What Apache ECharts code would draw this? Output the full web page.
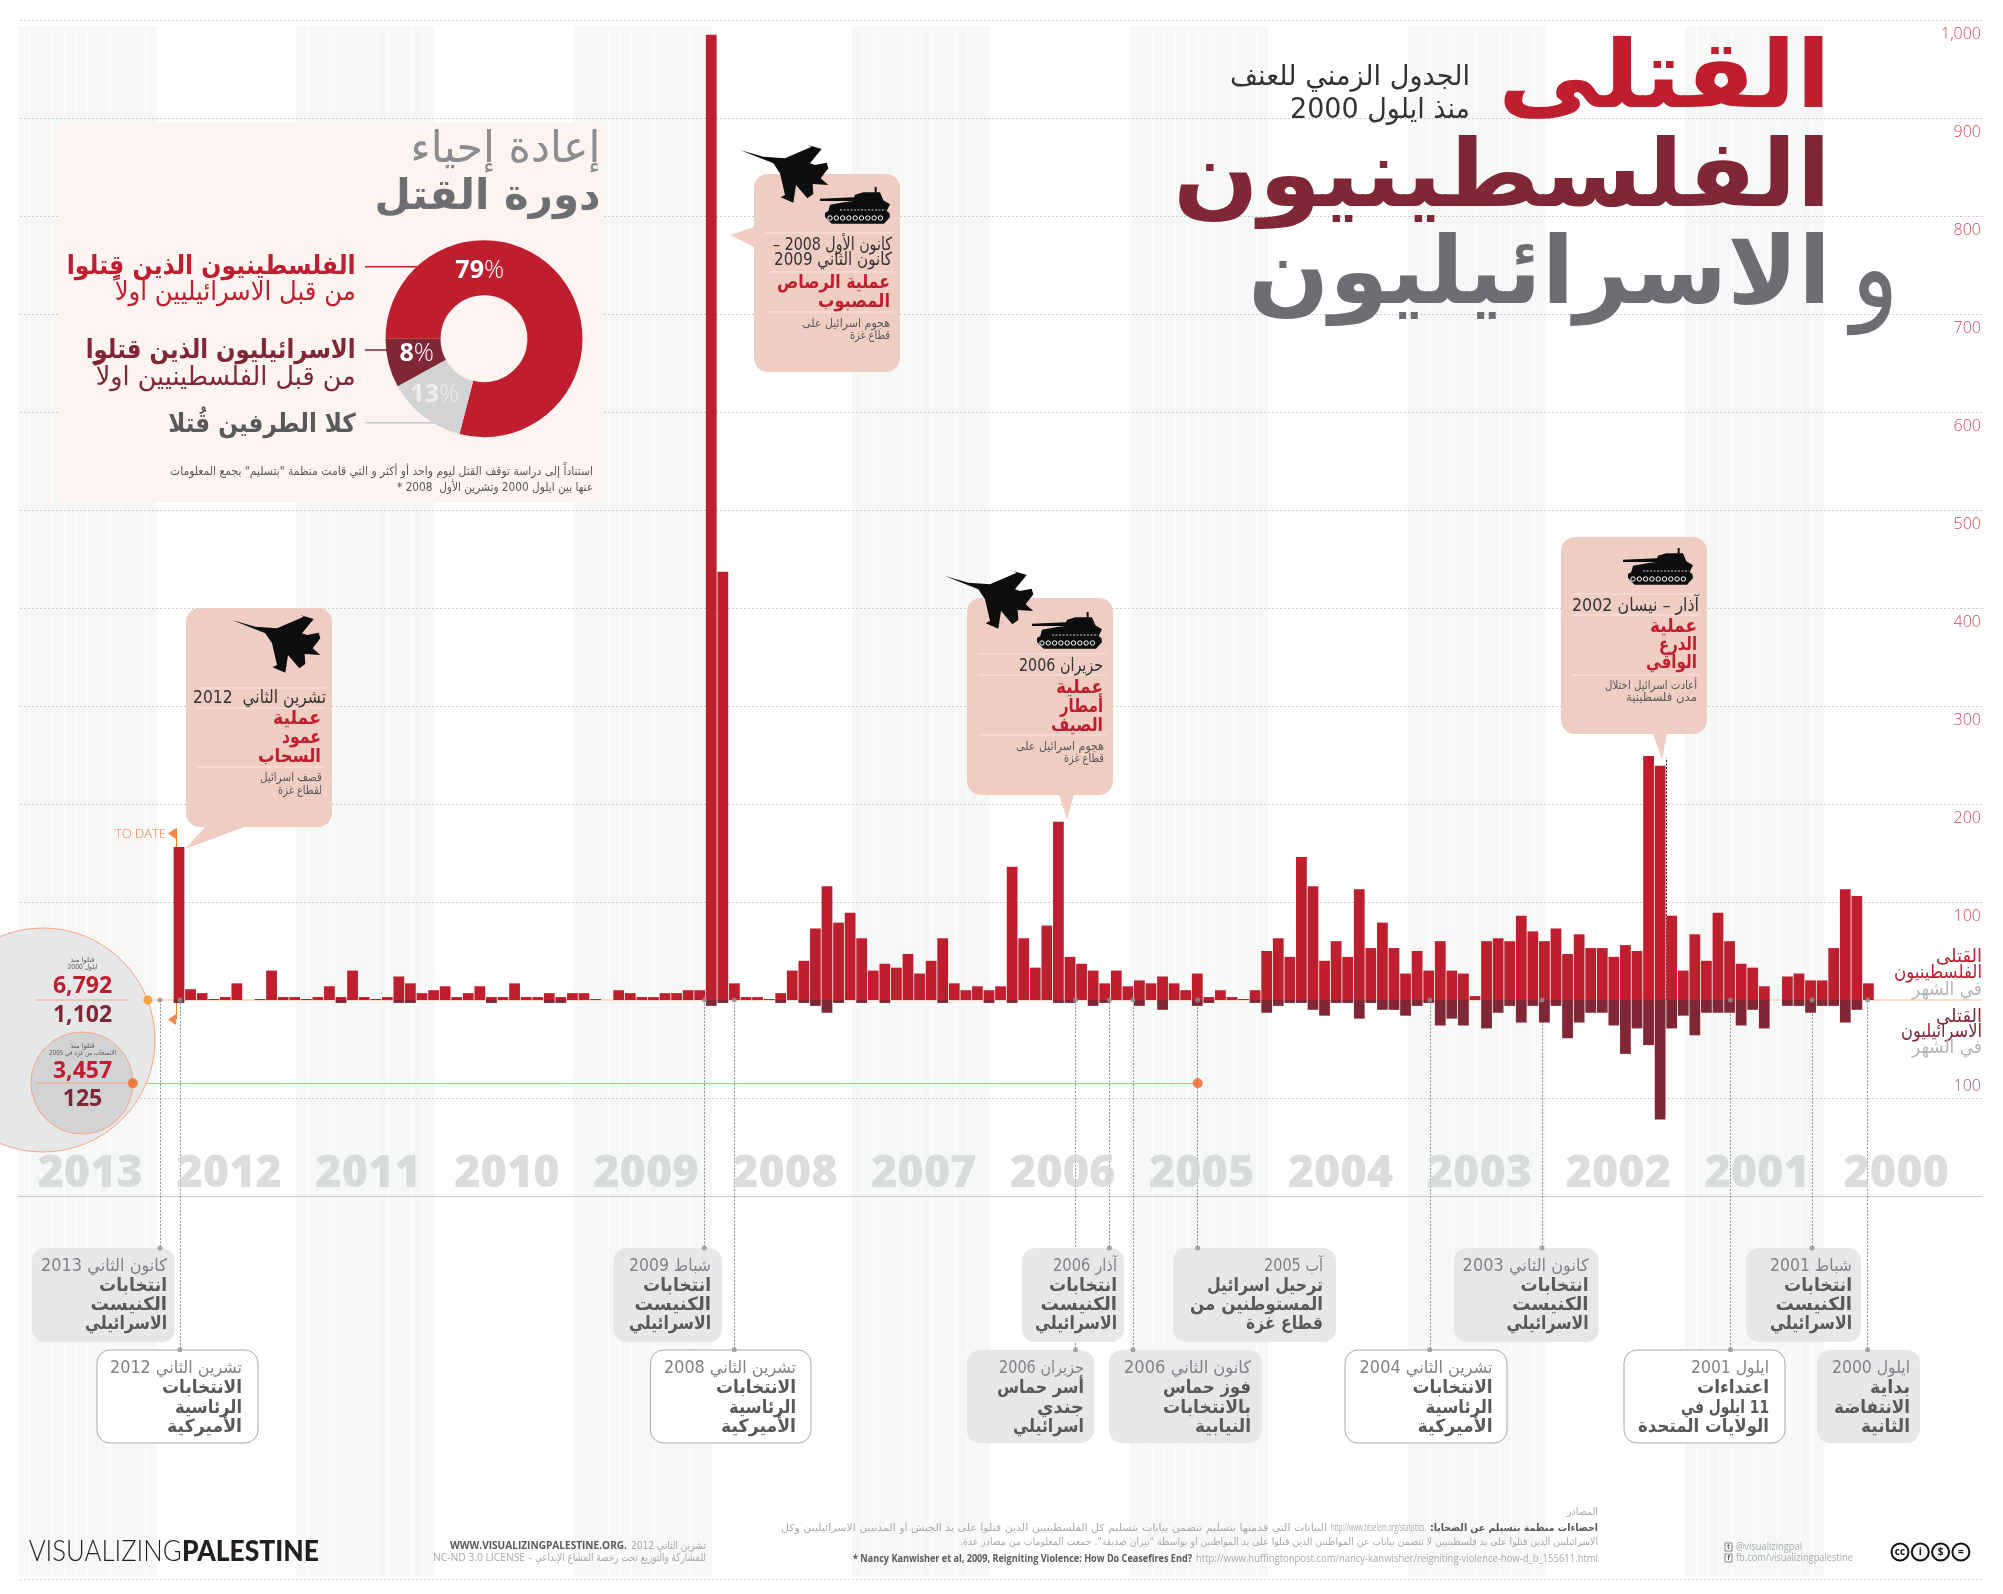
<!DOCTYPE html>
<html><head><meta charset="utf-8">
<script src="https://cdn.jsdelivr.net/npm/echarts@6/dist/echarts.min.js"></script>
<style>html,body{margin:0;padding:0;background:#fff;overflow:hidden}#c{position:absolute;left:0;top:0;width:2003px;height:1594px}</style>
</head><body dir="rtl"><div id="c"></div>
<script>
// ---------- data (left to right: Nov 2012 back to Sep 2000) ----------
const palestinians = [156,11,7,1,3,17,0,1,30,3, 3,1,3,14,3,30,3,1,3,24, 17,7,10,14,3,7,14,3,3,17, 3,3,7,3,7,7,1,0,10,7,
 3,3,7,7,10,10,985,437,17,3, 3,1,7,30,40,73,116,79,89,63, 30,37,33,47,27,40,63,17,10,14, 10,14,136,63,33,76,182,44,37,30,
 17,30,14,20,17,24,17,10,27,3, 10,3,1,10,50,63,44,146,116,40, 60,44,113,53,79,53,27,50,30,60, 30,27,4,60,63,60,86,70,60,73,
 47,67,53,53,44,56,50,249,239,86, 30,67,40,89,60,37,33,14,0,24, 27,20,20,53,113,106,17];
const israelis = [3,0,0,0,0,0,0,0,0,0, 0,0,0,0,3,0,0,0,0,3, 3,0,0,0,0,0,0,3,0,0, 0,0,3,3,0,0,0,0,0,0,
 0,0,0,0,0,0,6,3,0,0, 0,0,3,0,3,6,13,3,0,3, 0,3,0,0,0,0,3,0,0,0, 3,0,3,0,0,0,3,3,0,6,
 3,0,0,6,0,10,0,0,6,3, 0,0,0,3,13,6,3,3,10,16, 3,3,19,3,10,10,16,6,3,26, 19,26,0,29,13,6,23,6,23,6,
 39,23,13,13,26,55,29,46,122,29, 16,36,13,13,13,26,10,29,0,6, 6,13,6,6,23,10,0];
const monthNames = ['Jan','Feb','Mar','Apr','May','Jun','Jul','Aug','Sep','Oct','Nov','Dec'];
const months = [];
for (let i = 0, y = 2012, m = 10; i < palestinians.length; i++) { months.push(monthNames[m] + ' ' + y); if (--m < 0) { m = 11; y--; } }
const yearLabels = [2013,2012,2011,2010,2009,2008,2007,2006,2005,2004,2003,2002,2001,2000];
const shadedYears = [2013,2011,2009,2007,2005,2003,2001];
const upperTicks = [1000,900,800,700,600,500,400,300,200,100];
const lowerTick = -100;
const cycleShares = [79,13,8];
const cycleNames = ['الفلسطينيون الذين قتلوا أولا','كلا الطرفين قتلا','الاسرائيليون الذين قتلوا أولا'];
const totals = {sinceInt:['6,792','1,102'], sinceGaza:['3,457','125']};
// event lines: date on the time axis (year fraction) and depth of the line on the value scale
const eventDates = [2012.978,2012.834,2009.059,2008.844,2006.387,2006.144,2005.974,2005.508,2003.837,2003.029,2001.673,2001.085,2000.685];
const eventDepths = [-253,-357,-253,-357,-357,-253,-357,-253,-357,-253,-357,-253,-357];
const eventText = [
 ['كانون الثاني 2013','انتخابات','الكنيست','الاسرائيلي'],
 ['تشرين الثاني 2012','الانتخابات','الرئاسية','الأميركية'],
 ['شباط 2009','انتخابات','الكنيست','الاسرائيلي'],
 ['تشرين الثاني 2008','الانتخابات','الرئاسية','الأميركية'],
 ['حزيران 2006','أسر حماس','جندي','اسرائيلي'],
 ['آذار 2006','انتخابات','الكنيست','الاسرائيلي'],
 ['كانون الثاني 2006','فوز حماس','بالانتخابات','النيابية'],
 ['آب 2005','ترحيل اسرائيل','المستوطنين من','قطاع غزة'],
 ['تشرين الثاني 2004','الانتخابات','الرئاسية','الأميركية'],
 ['كانون الثاني 2003','انتخابات','الكنيست','الاسرائيلي'],
 ['ايلول 2001','اعتداءات','11 ايلول في','الولايات المتحدة'],
 ['شباط 2001','انتخابات','الكنيست','الاسرائيلي'],
 ['ايلول 2000','بداية','الانتفاضة','الثانية']];

// ---------- layout (separate from the data) ----------
const eventBoxes = [ // x0,x1,textRight,row,outlined
 [32,175,167,0,0],[97,258,242,1,1],[613.5,722,711,0,0],[650.5,811,796,1,1],[967,1094,1084,1,0],[1022,1124,1117,0,0],
 [1109,1262,1251,1,0],[1173,1336,1323,0,0],[1345,1507,1492.6,1,1],[1454,1599,1588.6,0,0],[1624,1785,1769,1,1],[1746,1861,1852,0,0],[1817,1920,1910,1,0]];
const widthOf = {'كانون الثاني 2013':126,'كانون الثاني 2003':126,'كانون الثاني 2006':127,'تشرين الثاني 2012':132,'تشرين الثاني 2008':132,'تشرين الثاني 2004':133,
 'شباط 2009':82,'شباط 2001':82,'آذار 2006':64,'آب 2005':59,'حزيران 2006':85,'ايلول 2001':78,'ايلول 2000':78,
 'انتخابات':68,'الكنيست':76.5,'الاسرائيلي':82,'الانتخابات':80,'الرئاسية':67,'الأميركية':75,'أسر حماس':87,'جندي':47,'اسرائيلي':71,
 'فوز حماس':88,'بالانتخابات':88,'النيابية':56,'ترحيل اسرائيل':116,'المستوطنين من':133,'قطاع غزة':77,'اعتداءات':72,'11 ايلول في':88,'الولايات المتحدة':131,
 'بداية':40,'الانتفاضة':76,'الثانية':49};
const AR = '"DejaVu Sans"', RED='#be1e2d', DARK='#7f2734', GREY='#6d6e71', MID='#58595b', LIGHT='#808285', PEACH='#f0cdc2';
const mctx = document.createElement('canvas').getContext('2d');
function measure(text,font){ mctx.font=font; return mctx.measureText(text).width; }
function txt(text,x,y,size,color,o){ o=o||{};
  const font=(o.weight?o.weight+' ':'')+size+'px '+(o.family||AR);
  let sx=1; if(o.w) sx=o.w/measure(text,font);
  return {type:'text',x:x,y:y,scaleX:sx,z:o.z||10,silent:true,
    style:{text:text,font:font,fill:color,textAlign:o.align||'right',textVerticalAlign:'middle',opacity:o.opacity==null?1:o.opacity}};
}
function runs(parts,right,y,size,color){ const out=[];let cur=right;
  parts.forEach(p=>{const font=(p.b?'bold ':'')+size+'px '+(p.family||AR);const w=p.w||measure(p.t,font);
    out.push(txt(p.t,cur,y,size,p.c||color,{weight:p.b?'bold':'',family:p.family,w:w}));cur-=w+(p.gap==null?4:p.gap);});
  return out; }
function rule(x1,y1,x2,y2,c,o){return {type:'line',z:(o&&o.z)||7,silent:true,shape:{x1,y1,x2,y2},style:{stroke:c,lineWidth:(o&&o.lw)||1}};}
// icon outlines, in 3x units of their own box
const planePts=[[30,60],[100,80],[165,85],[245,50],[235,45],[275,57],[240,100],[255,105],[290,98],[295,115],[272,145],[295,165],[248,162],[250,192],[232,205],[198,165],[190,218],[152,202],[165,195],[150,130],[130,100]];
const tankPts=[[270,207],[372,203],[375,195],[400,188],[434,188],[434,172],[440,172],[440,188],[450,188],[460,212],[480,224],[470,244],[478,250],[480,262],[462,282],[305,282],[285,262],[285,250],[295,244],[300,225],[350,216],[372,214],[270,214]];
function placePts(pts,x,y){return pts.map(p=>[x+p[0]/3,y+p[1]/3]);}
function plane(x,y){return {type:'polygon',z:6,silent:true,shape:{points:placePts(planePts,x-10,y-15)},style:{fill:'#0b0d0e'}};}
function tank(x,y){ const ox=x-90, oy=y-57.33; const els=[{type:'polygon',z:6,silent:true,shape:{points:placePts(tankPts,ox,oy)},style:{fill:'#0b0d0e'}},
   {type:'line',z:6,silent:true,shape:{x1:x+20,y1:y+23,x2:x+66,y2:y+23},style:{stroke:'#fff',lineWidth:.8,lineDash:[2,1.5]}}];
  for(let i=0;i<9;i++) els.push({type:'circle',z:6,silent:true,shape:{cx:x+10+i*6.3,cy:y+31,r:2.2},style:{fill:'#0b0d0e',stroke:'#fff',lineWidth:1}});
  return els; }
function callout(x0,y0,x1,y1,ptr){return [
  {type:'polygon',z:5,silent:true,shape:{points:ptr},style:{fill:PEACH}},
  {type:'rect',z:5,silent:true,shape:{x:x0,y:y0,width:x1-x0,height:y1-y0,r:14},style:{fill:PEACH}}];}
function lines(arr,right,c,size,w){ return arr.map(a=>txt(a[0],right,a[1],size,c,{w:a[2],weight:w}));}

const g=[];
// Cycle-of-violence panel
g.push({type:'rect',z:1,silent:true,shape:{x:59.5,y:123,width:544,height:379},style:{fill:'#fdf3f1'}});
g.push(txt('إعادة إحياء',600.5,151,44,'#8a8c8f',{w:190}));
g.push(txt('دورة القتل',600.5,198,42,GREY,{weight:'bold',w:226}));
g.push(txt('الفلسطينيون الذين قِتلوا',355.7,267,26,RED,{weight:'bold',w:289}));
g.push(txt('من قبل الاسرائيليين اولاً',355.7,293,26,RED,{w:241}));
g.push(txt('الاسرائيليون الذين قتلوا',355.7,351,26,DARK,{weight:'bold',w:270}));
g.push(txt('من قبل الفلسطينيين اولاً',355.7,378,26,DARK,{w:260}));
g.push(txt('كلا الطرفين قُتلا',355.7,425,26,MID,{weight:'bold',w:187.5}));
g.push(rule(365,266.7,417,266.7,RED,{lw:1.5,z:4}),rule(365,350,387,350,DARK,{lw:1.5,z:4}),rule(365,422.7,434,422.7,'#c9cbcd',{lw:1.5,z:4}));
g.push(txt('استناداً إلى دراسة توقف القتل ليوم واحد أو أكثر و التي قامت منظمة "بتسليم" بجمع المعلومات',593,472,12,MID,{w:423}));
g.push(txt('عنها بين ايلول 2000 وتشرين الأول  2008 *',593,488,12,MID,{w:196}));
function pct(v,x,y,c){ const n=String(v); const a=measure(n,'bold 25px "Open Sans"'),b=measure('%','25px "Open Sans"');const l=x-(a+b)/2;
  return [txt(n,l,y,25,c,{align:'left',weight:'bold',family:'"Open Sans"'}),txt('%',l+a,y,25,c,{align:'left',weight:'300',family:'"Open Sans"'})];}
g.push(...pct(cycleShares[0],480,271,'#fff'),...pct(cycleShares[2],417,354,'#fff'),...pct(cycleShares[1],435,395,'#eeeeef'));
// Title
g.push(txt('القتلى',1831,83,94,RED,{weight:'bold',w:333}));
g.push(txt('الفلسطينيون',1831,182,94,DARK,{weight:'bold',w:658}));
g.push(txt('الاسرائيليون',1831,279,94,GREY,{weight:'bold',w:583}));
g.push(txt('و',1899,277,115,GREY,{w:48}));
g.push(txt('الجدول الزمني للعنف',1470,78,28,'#333',{w:240}));
g.push(txt('منذ ايلول 2000',1470,111,28,'#333',{w:180}));
// Right side captions
g.push(txt('القتلى',1982,957,19,RED,{w:46}),txt('الفلسطينيون',1982,973,19,RED,{w:88}),txt('في الشهر',1982,990,19,'#b3b5b8',{w:70}));
g.push(txt('القتلى',1982,1017,19,DARK,{w:46}),txt('الاسرائيليون',1982,1032,19,DARK,{w:81}),txt('في الشهر',1982,1048,19,'#b3b5b8',{w:70}));
g.push(txt(String(-lowerTick),1981,1086,16,'#9c5c68',{family:'"Open Sans"',weight:'300'}));
// To date
g.push(txt('TO DATE',166,834,13,'#f47b3a',{family:'"Open Sans"',weight:'300'}));
// Totals circles
g.push({type:'circle',z:4,silent:true,shape:{cx:43,cy:1040,r:112},style:{fill:'#e6e7e8',stroke:'#f7a57f',lineWidth:1}});
g.push({type:'circle',z:4,silent:true,shape:{cx:82,cy:1083,r:51},style:{fill:'#d1d3d4',stroke:'#f7a57f',lineWidth:1}});
g.push(rule(36,1000,129,1000,'#f7a57f',{z:5}),rule(36,1083,130,1083,'#f7a57f',{z:5}));
g.push(txt(totals.sinceInt[0],82.5,986,23,RED,{align:'center',weight:'bold',family:'"Open Sans"'}),txt(totals.sinceInt[1],82.5,1015,23,DARK,{align:'center',weight:'bold',family:'"Open Sans"'}));
g.push(txt(totals.sinceGaza[0],82.5,1071,23,RED,{align:'center',weight:'bold',family:'"Open Sans"'}),txt(totals.sinceGaza[1],82.5,1099,23,DARK,{align:'center',weight:'bold',family:'"Open Sans"'}));
g.push(txt('قتلوا منذ',82.5,960,7,MID,{align:'center',w:24}),txt('ايلول 2000',82.5,967,7,MID,{align:'center',w:30}));
g.push(txt('قتلوا منذ',82.5,1046,7,MID,{align:'center',w:24}),txt('الانسحاب من غزة في 2005',82.5,1053,7,MID,{align:'center',w:67}));
// Callouts
const DATE=18, HEAD=19, DESC=12;
g.push(...callout(186,608,332,827,[[206,826],[247,826],[185,849]]));
g.push(plane(232,615));
g.push(rule(197,688,325,688,'#f8e6e0'),rule(197,708,325,708,'#f8e6e0'),rule(197,767,325,767,'#f8e6e0'));
g.push(txt('تشرين الثاني  2012',326,698,DATE,'#333',{w:133}),...lines([['عملية',719,48],['عمود',738,39],['السحاب',757,63]],321,RED,HEAD,'bold'),...lines([['قصف اسرائيل',778,62],['لقطاع غزة',791,44]],322,MID,DESC));

g.push(...callout(754,174,900,372,[[754,227],[754,247],[730,235]]));
g.push(plane(740,145),...tank(820,187));
g.push(rule(765,233,893,233,'#f8e6e0'),rule(765,272,893,272,'#f8e6e0'),rule(765,312,893,312,'#f8e6e0'));
g.push(txt('كانون الأول 2008 –',892,245,DATE,'#333',{w:119}),txt('كانون الثاني 2009',892,260,DATE,'#333',{w:118}),...lines([['عملية الرصاص',283,113],['المصبوب',302,72]],890,RED,HEAD,'bold'),...lines([['هجوم اسرائيل على',324,88],['قطاع غزة',336,40]],890,MID,DESC));

g.push(...callout(967,598,1113,795,[[1059,794],[1074,794],[1067,820]]));
g.push(plane(945,571),...tank(1032,612));
g.push(rule(978,654,1106,654,'#f8e6e0'),rule(978,675,1106,675,'#f8e6e0'),rule(978,735,1106,735,'#f8e6e0'));
g.push(txt('حزيران 2006',1103,666,DATE,'#333',{w:84}),...lines([['عملية',688,47],['أمطار',707,43],['الصيف',726,52]],1103,RED,HEAD,'bold'),...lines([['هجوم اسرائيل على',747,88],['قطاع غزة',759,40]],1104,MID,DESC));

g.push(...callout(1561,537,1707,734,[[1653,733],[1667,733],[1662,760]]));
g.push(...tank(1623,548));
g.push(rule(1572,594,1699,594,'#f8e6e0'),rule(1572,615,1699,615,'#f8e6e0'),rule(1572,675,1699,675,'#f8e6e0'));
g.push(txt('آذار – نيسان 2002',1699,606,DATE,'#333',{w:127}),...lines([['عملية',627,47],['الدرع',645,38],['الواقي',663,51]],1697,RED,HEAD,'bold'),...lines([['أعادت اسرائيل احتلال',686,92],['مدن فلسطينية',698,71]],1697,MID,DESC));

// Event boxes
const rowY=[[1248,1342,[1267,1286,1305,1324]],[1350,1443,[1369,1388,1408,1427]]];
eventBoxes.forEach((b,i)=>{const r=rowY[b[3]];
  g.push({type:'rect',z:3,silent:true,shape:{x:b[0],y:r[0],width:b[1]-b[0],height:r[1]-r[0],r:13},style:b[4]?{fill:'#fff',stroke:'#a7a9ac',lineWidth:1}:{fill:'#e6e7e8'}});
  eventText[i].forEach((t,j)=>g.push(txt(t,b[2],r[2][j],j?18:17,j?MID:LIGHT,{weight:j?'bold':'',w:widthOf[t]})));
});
// Footer
g.push(txt('VISUALIZING',28.7,1552,29,'#231f20',{align:'left',family:'Lato',weight:'300',w:153}));
g.push(txt('PALESTINE',182,1552,29,'#231f20',{align:'left',family:'Lato',weight:'900',w:137}));
g.push(...runs([{t:'تشرين الثاني 2012',w:75},{t:'\u202AWWW.VISUALIZINGPALESTINE.ORG.\u202C',b:1,family:'"Open Sans"',c:MID,w:177,gap:0}],706,1546,11,'#a7a9ac'));
g.push(...runs([{t:'للمشاركة والتوزيع تحت رخصة المشاع الإبداعي -',w:177},{t:'NC-ND 3.0 LICENSE',family:'"Open Sans"',w:92}],706,1558,11,'#a7a9ac'));
g.push(txt('المصادر',1598,1512,10,'#a7a9ac',{w:31}));
g.push(...runs([{t:'احصاءات منظمة بتسيلم عن الضحايا:',b:1,c:MID,w:168},{t:'\u202Ahttp://www.btselem.org/statistics.\u202C',family:'"Open Sans"',w:95},{t:'البيانات التي قدمتها بتسليم تتضمن بيانات بتسليم كل الفلسطينيين الذين قتلوا على يد الجيش او المدنيين الاسرائيليين وكل',w:546}],1598,1528,10,'#a7a9ac'));
g.push(txt('الاسرائيليين الذين قتلوا على يد فلسطينيين لا تتضمن بيانات عن المواطنين الذين قتلوا على يد المواطنين او بواسطة "نيران صديقة". جمعت المعلومات من مصادر عدة.',1598,1542,10,'#a7a9ac',{w:638}));
g.push(...runs([{t:'\u202Ahttp://www.huffingtonpost.com/nancy-kanwisher/reigniting-violence-how-d_b_155611.html\u202C',family:'"Open Sans"',w:402},{t:'\u202A* Nancy Kanwisher et al, 2009, Reigniting Violence: How Do Ceasefires End?\u202C',b:1,c:MID,family:'"Open Sans"',w:339}],1598,1559,10,'#a7a9ac'));
g.push(txt('\u202A@visualizingpal\u202C',1736,1547,10,'#a7a9ac',{align:'left',family:'"Open Sans"',w:66}),txt('\u202Afb.com/visualizingpalestine\u202C',1736,1558,10,'#a7a9ac',{align:'left',family:'"Open Sans"',w:117}));
g.push({type:'rect',z:3,silent:true,shape:{x:1725,y:1543,width:7,height:8},style:{fill:'#fff',stroke:'#808285'}},{type:'rect',z:3,silent:true,shape:{x:1725,y:1554,width:7,height:8},style:{fill:'#fff',stroke:'#808285'}});
g.push(txt('t',1728.5,1547,7,'#58595b',{align:'center',family:'"Open Sans"',weight:'bold'}),txt('f',1728.5,1558,7,'#58595b',{align:'center',family:'"Open Sans"',weight:'bold'}));
['cc','i','$','='].forEach((s,i)=>{const cx=1900+i*20.3;
  g.push({type:'circle',z:3,silent:true,shape:{cx:cx,cy:1552,r:8.5},style:{fill:'#fff',stroke:'#111',lineWidth:2}});
  g.push(txt(s,cx,1552,10,'#111',{align:'center',family:'"Open Sans"',weight:'bold'}));});

// ---------- chart ----------
const MIN=-600, MAX=1000, TOP=20, H=1568;
const bandAreas=[];
shadedYears.forEach(y=>{for(let m=0;m<12;m++) bandAreas.push([{xAxis:y+m/12+.0025,yAxis:994},{xAxis:y+(m+1)/12-.0025,yAxis:-588}]);});
const chart=echarts.init(document.getElementById('c'));
chart.setOption({
 animation:false,backgroundColor:'#fff',
 grid:[{left:173.2,width:1701,top:TOP,height:H},{left:18,width:1964,top:TOP,height:H}],
 xAxis:[{type:'category',gridIndex:0,data:months,show:false},
        {type:'value',gridIndex:1,inverse:true,min:1999.862,max:2014,show:false,splitLine:{show:false}}],
 yAxis:[{type:'value',gridIndex:0,min:MIN,max:MAX,interval:100,show:false,splitLine:{show:false}},
        {type:'value',gridIndex:1,min:MIN,max:MAX,interval:100,position:'right',axisLine:{show:false},axisTick:{show:false},splitLine:{show:false},
         axisLabel:{inside:true,margin:1,verticalAlign:'top',padding:[6,0,0,0],fontFamily:'Open Sans',fontWeight:300,fontSize:16,color:'#d6495a',
           formatter:v=>upperTicks.includes(v)?(v>=1000?'1,000':String(v)):''}}],
 series:[
  {type:'scatter',name:'bands',xAxisIndex:1,yAxisIndex:1,z:0,symbolSize:0,data:[[2000,0]],silent:true,
   markArea:{z:0,silent:true,itemStyle:{color:'#f5f8f7'},data:bandAreas},
   markLine:{z:0,silent:true,symbol:'none',label:{show:false},
     data:[...upperTicks,lowerTick].map(v=>({yAxis:v,lineStyle:{color:'#c9cbcc',type:[2,2],width:1}}))
      .concat([{yAxis:-200,lineStyle:{color:'#c9cbcc',type:'solid',width:1}},{yAxis:-591,lineStyle:{color:'#d8dada',type:[2,2],width:1}},
       [{coord:[2013.065,0],lineStyle:{color:'#fcdccd',type:'solid',width:2}},{coord:[1999.862,0]}]])}},
  {type:'bar',name:'Palestinians',xAxisIndex:0,yAxisIndex:0,data:palestinians,itemStyle:{color:RED},barCategoryGap:'7%',barGap:'-100%',z:2},
  {type:'bar',name:'Israelis',xAxisIndex:0,yAxisIndex:0,data:israelis.map(v=>-v),itemStyle:{color:DARK},barGap:'-100%',z:2},
  {type:'scatter',name:'years',xAxisIndex:1,yAxisIndex:1,symbolSize:1,itemStyle:{color:'rgba(0,0,0,0)'},silent:true,z:2,
   data:yearLabels.map(y=>[y+0.48,-178,y]),
   label:{show:true,position:'inside',formatter:p=>String(p.value[2]),fontFamily:'Open Sans',fontWeight:800,fontSize:45,color:'#d1d3d4'}},
  {type:'scatter',name:'eventLines',xAxisIndex:1,yAxisIndex:1,z:3,symbolSize:5,itemStyle:{color:'#8f9193'},silent:true,
   data:eventDates.flatMap((d,i)=>[[d,0],[d,eventDepths[i]]]),
   markLine:{z:2,silent:true,symbol:'none',label:{show:false},lineStyle:{color:'#8f9193',type:[2,1.5],width:1},
     data:eventDates.map((d,i)=>[{coord:[d,0]},{coord:[d,eventDepths[i]]}])
      .concat([[{coord:[2002.136,0],lineStyle:{color:'#222',type:[2,1.5],width:1}},{coord:[2002.136,247]}]])}},
  {type:'scatter',name:'orange',xAxisIndex:1,yAxisIndex:1,z:8,silent:true,symbolSize:10,itemStyle:{color:'#f26522'},
   data:[[2013.173,-85],[2005.508,-85]],
   markLine:{z:2,silent:true,symbol:'none',label:{show:false},lineStyle:{color:'#f7a57f',type:'solid',width:1},
     data:[[{coord:[2013.173,-85]},{coord:[2005.508,-85]}],
           [{coord:[2012.863,175],lineStyle:{color:'#f58220',type:'solid',width:1}},{coord:[2012.863,-20]}]]}},
  {type:'scatter',name:'origin',xAxisIndex:1,yAxisIndex:1,z:8,silent:true,symbolSize:9,itemStyle:{color:'#f7941d'},data:[[2013.065,0]]},
  {type:'scatter',name:'toDate',xAxisIndex:1,yAxisIndex:1,z:8,silent:true,symbol:'triangle',symbolRotate:90,symbolSize:[11,8],itemStyle:{color:'#f26522'},data:[[2012.892,170],[2012.892,-20]]},
  {type:'pie',name:'cycle',z:3,center:[484,338.7],radius:[43.5,98.5],startAngle:180,clockwise:true,silent:true,label:{show:false},labelLine:{show:false},
   data:cycleShares.map((v,i)=>({value:v,name:cycleNames[i],itemStyle:{color:[RED,'#d1d3d4',DARK][i]}}))}
 ],
 graphic:{elements:g}
});
</script></body></html>
